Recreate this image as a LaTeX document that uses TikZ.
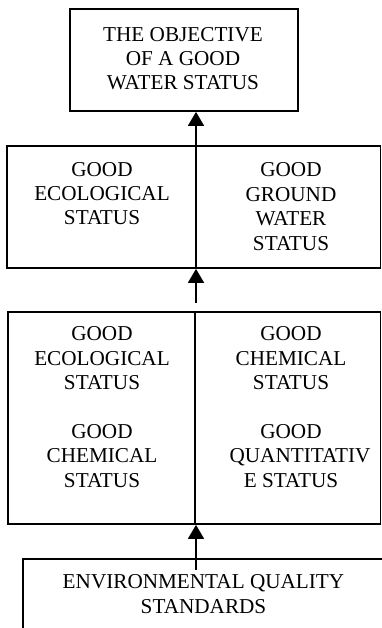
\documentclass[tikz,border=0pt]{standalone}
\usepackage{fontspec}
\setmainfont{Liberation Serif}
\usetikzlibrary{arrows.meta}

\tikzset{
  box/.style={draw, line width=1.8pt, inner sep=0pt, rectangle},
  % anchored at the baseline of the last line
  label/.style={align=center, inner sep=0pt, anchor=base,
    font=\fontsize{21.2}{24.4}\selectfont},
  uparrow/.style={line width=1.8pt, -{Triangle[length=14pt,width=16pt]}},
  divider/.style={line width=1.8pt}
}

\begin{document}
\begin{tikzpicture}[x=1pt, y=-1pt]
  \useasboundingbox (0,0) rectangle (382,628);
  \clip (0,0) rectangle (382,628);

  % frames
  \node[box, minimum width=228pt, minimum height=102pt] (obj) at (184,60) {};
  \node[box, minimum width=373.5pt, minimum height=122pt] (mid) at (193.75,207) {};
  \node[box, minimum width=372.5pt, minimum height=212pt] (low) at (194.25,418) {};
  \node[box, minimum width=420pt, minimum height=120pt] (eqs) at (233,619) {};

  % texts
  \node[label] (tobj) at (183,90) {THE OBJECTIVE\\OF A GOOD\\WATER STATUS};
  \node[label] (tml) at (102,225) {GOOD\\ECOLOGICAL\\STATUS};
  \node[label] (tmr) at (291,250) {GOOD\\GROUND\\WATER\\STATUS};
  \node[label] (tll) at (102,487) {GOOD\\ECOLOGICAL\\STATUS\\[24.4pt]GOOD\\CHEMICAL\\STATUS};
  \node[label] (tlr) at (291,487) {GOOD\\CHEMICAL\\STATUS\\[24.4pt]GOOD\\\hspace*{18pt}QUANTITATIV\\E STATUS};
  \node[label] (teqs) at (203.5,613.3) {ENVIRONMENTAL QUALITY\\STANDARDS};

  % axis of the arrows and the split of the lower frame
  \coordinate (ax) at (196,0);
  \coordinate (dx) at (195,0);
  \coordinate (s2) at (196,303);
  \coordinate (s3) at (196,570);
  \draw[divider] (low.north -| dx) -- (low.south -| dx);

  % connectors
  \draw[uparrow] (mid.south -| ax) -- (obj.south -| ax);
  \draw[uparrow] (s2) -- (mid.south -| ax);
  \draw[uparrow] (s3) -- (low.south -| ax);
\end{tikzpicture}
\end{document}
